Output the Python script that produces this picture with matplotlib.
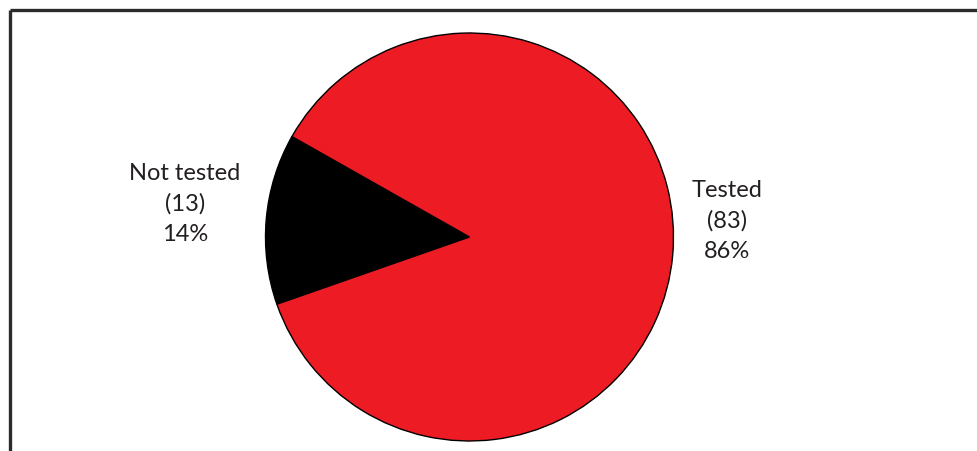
import matplotlib
matplotlib.use("Agg")
import matplotlib.pyplot as plt

# data
labels = ["Not tested", "Tested"]
counts = [13, 83]
percents = [14, 86]
colors = ["#000000", "#ED1C24"]

W, H = 977, 451
fig = plt.figure(figsize=(W / 100, H / 100), dpi=100)
ax = fig.add_axes([0, 0, 1, 1])
ax.set_xlim(0, W)
ax.set_ylim(0, H)
ax.set_aspect("equal")
ax.axis("off")

# pie, centred in pixel coords (y measured from bottom)
ax.pie(counts, colors=colors, startangle=150.5, counterclock=True,
       center=(469.5, H - 237), radius=204,
       wedgeprops=dict(edgecolor="black", linewidth=1.0))
ax.set_xlim(0, W)
ax.set_ylim(0, H)

# partial frame: top and left only
ax.plot([10, W], [H - 9.5, H - 9.5], color="#2b2b2b", lw=2.4, solid_capstyle="butt")
ax.plot([10, 10], [0, H - 9.5], color="#2b2b2b", lw=2.4, solid_capstyle="butt")

font = dict(family=["Lato", "DejaVu Sans"], fontsize=17,
            color="#231f20", ha="center", va="center", linespacing=1.55)
ax.text(185, H - 204, f"{labels[0]}\n({counts[0]})\n{percents[0]}%", **font)
ax.text(727, H - 221, f"{labels[1]}\n({counts[1]})\n{percents[1]}%", **font)

fig.savefig("out.png", dpi=100)
